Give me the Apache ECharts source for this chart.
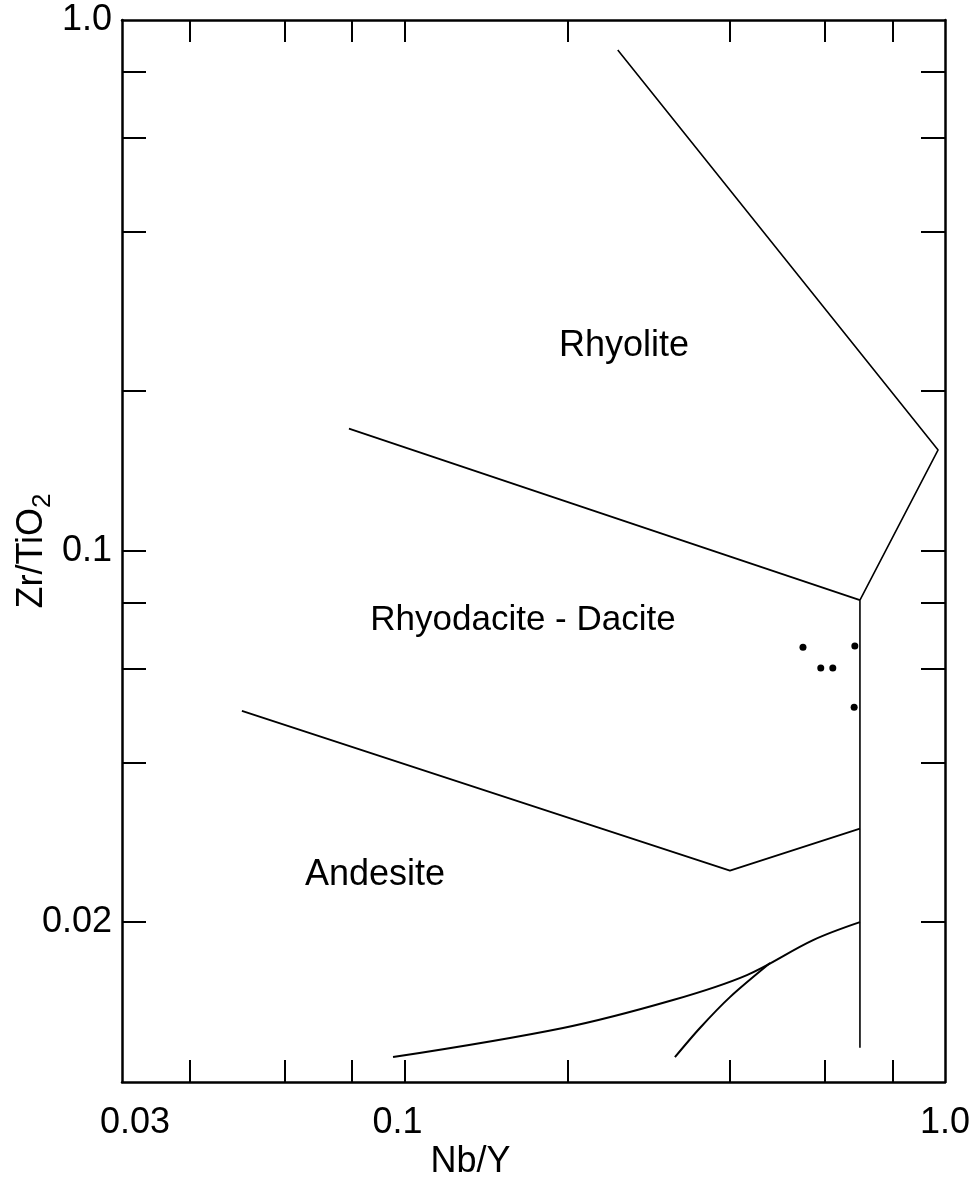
<!DOCTYPE html>
<html>
<head>
<meta charset="utf-8">
<title>Zr/TiO2 - Nb/Y</title>
<script src="https://cdn.jsdelivr.net/npm/echarts@6/dist/echarts.min.js"></script>
<style>
  html, body { margin: 0; padding: 0; background: #fff; }
  #main { width: 975px; height: 1182px; }
</style>
</head>
<body>
<div id="main"></div>
<script>
// axes (both log scale)
const xRange = [0.03, 1.0];
const yRange = [0.01, 1.0];
const xTicks = [0.04, 0.06, 0.08, 0.1, 0.2, 0.4, 0.6, 0.8];
const yTicks = [0.02, 0.04, 0.06, 0.08, 0.1, 0.2, 0.4, 0.6, 0.8];
const xTickLabels = ["0.03", "0.1", "1.0"];
const yTickLabels = ["0.02", "0.1", "1.0"];

// field boundaries, points are [Nb/Y, Zr/TiO2]
const rhyoliteEdge = [[0.248, 0.878], [0.971, 0.155], [0.696, 0.0808], [0.696, 0.0116]];
const rhyodaciteEdge = [[0.0789, 0.170], [0.696, 0.0808]];
const andesiteEdge = [[0.05, 0.05], [0.4, 0.025], [0.696, 0.030]];
const lowerCurve = [[0.0952, 0.01114], [0.1964, 0.01264], [0.3139, 0.01427], [0.43, 0.0159], [0.57, 0.0185], [0.696, 0.0200]];
const innerCurve = [[0.3164, 0.01114], [0.352, 0.01264], [0.40, 0.01445], [0.4746, 0.01675]];

// samples
const sampleNbY = [0.546, 0.589, 0.620, 0.681, 0.679];
const sampleZrTi = [0.0659, 0.0602, 0.0602, 0.0662, 0.0508];

const FONT = "'Liberation Sans', Arial, sans-serif";
const lg = Math.log10;
const toLog = pts => pts.map(p => [lg(p[0]), lg(p[1])]);

function labelFor(list) {
  return function (v) {
    const s = list.find(t => Math.abs(lg(parseFloat(t)) - v) < 1e-6);
    if (s === "0.03") return "{l|" + s + "}";
    if (s === "0.1" && list === xTickLabels) return "{r|" + s + "}";
    return s || "";
  };
}

const tickStyle = { color: "#000", width: 2 };
const lineAxis = { show: true, onZero: false, lineStyle: { color: "#000", width: 2.5 } };

function xAxisOf(pos, withLabels) {
  return {
    type: "value",
    position: pos,
    min: lg(xRange[0]),
    max: lg(xRange[1]),
    axisLine: lineAxis,
    splitLine: { show: false },
    axisTick: { show: true, inside: true, length: 22, customValues: xTicks.map(lg), lineStyle: tickStyle },
    axisLabel: withLabels ? {
      show: true, customValues: xTickLabels.map(t => lg(parseFloat(t))),
      formatter: labelFor(xTickLabels), margin: 23,
      color: "#000", fontSize: 36, fontFamily: FONT,
      rich: {
        l: { fontSize: 36, fontFamily: FONT, color: "#000", padding: [0, 0, 0, 26] },
        r: { fontSize: 36, fontFamily: FONT, color: "#000", padding: [0, 14, 0, 0] }
      }
    } : { show: false },
    name: withLabels ? "Nb/Y" : "",
    nameLocation: "middle",
    nameGap: 62,
    nameMoveOverlap: false,
    nameTextStyle: { color: "#000", fontSize: 36, fontFamily: FONT, padding: [0, 126, 0, 0] }
  };
}

function yAxisOf(pos, withLabels) {
  return {
    type: "value",
    position: pos,
    min: lg(yRange[0]),
    max: lg(yRange[1]),
    axisLine: lineAxis,
    splitLine: { show: false },
    axisTick: { show: true, inside: true, length: 24, customValues: yTicks.map(lg), lineStyle: tickStyle },
    axisLabel: withLabels ? {
      show: true, customValues: yTickLabels.map(t => lg(parseFloat(t))),
      formatter: labelFor(yTickLabels), margin: 10,
      color: "#000", fontSize: 36, fontFamily: FONT
    } : { show: false },
    name: withLabels ? "{a|Zr/TiO}{b|2}" : "",
    nameLocation: "middle",
    nameGap: 66,
    nameMoveOverlap: false,
    nameTextStyle: {
      rich: {
        a: { fontSize: 36, fontFamily: FONT, color: "#000" },
        b: { fontSize: 26, fontFamily: FONT, color: "#000", padding: [22, 0, 0, 0] }
      }
    }
  };
}

function boundary(pts, smooth, width) {
  return {
    type: "line",
    data: toLog(pts),
    symbol: "none",
    smooth: smooth,
    lineStyle: { color: "#000", width: width },
    silent: true
  };
}

const chart = echarts.init(document.getElementById("main"));
chart.setOption({
  backgroundColor: "#fff",
  animation: false,
  grid: { left: 122, right: 30, top: 20, bottom: 100, outerBoundsMode: "none", containLabel: false },
  xAxis: [xAxisOf("bottom", true), xAxisOf("top", false)],
  yAxis: [yAxisOf("left", true), yAxisOf("right", false)],
  series: [
    boundary(rhyoliteEdge, false, 1.6),
    boundary(rhyodaciteEdge, false, 1.8),
    boundary(andesiteEdge, false, 1.8),
    boundary(lowerCurve, 0.35, 2),
    boundary(innerCurve, 0.3, 2),
    {
      type: "scatter",
      data: sampleNbY.map((x, i) => [lg(x), lg(sampleZrTi[i])]),
      symbol: "circle",
      symbolSize: 7,
      itemStyle: { color: "#000", opacity: 1 }
    }
  ],
  graphic: [
    { type: "text", x: 624, y: 346, style: { text: "Rhyolite", font: "36px " + FONT, fill: "#000", align: "center", verticalAlign: "middle" } },
    { type: "text", x: 523, y: 620, style: { text: "Rhyodacite - Dacite", font: "35px " + FONT, fill: "#000", align: "center", verticalAlign: "middle" } },
    { type: "text", x: 375, y: 875, style: { text: "Andesite", font: "36px " + FONT, fill: "#000", align: "center", verticalAlign: "middle" } }
  ]
});
</script>
</body>
</html>
